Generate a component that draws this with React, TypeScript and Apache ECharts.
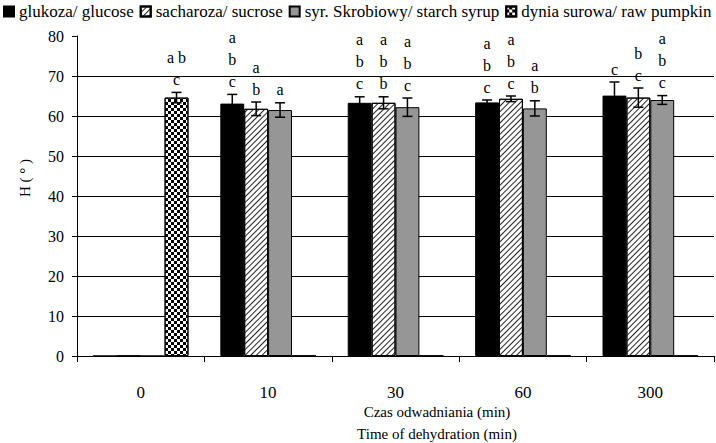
import React, { useEffect, useRef } from "react";
import * as echarts from "echarts";

const categories = ["0", "10", "30", "60", "300"];
const seriesNames = [
  "glukoza/ glucose",
  "sacharoza/ sucrose",
  "syr. Skrobiowy/ starch syrup",
  "dynia surowa/ raw pumpkin",
];
const glucose = [0, 63.1, 63.3, 63.4, 65.1];
const sucrose = [0, 61.8, 63.3, 64.3, 64.6];
const starch = [0, 61.5, 62.2, 61.9, 64.0];
const pumpkin = [64.6, 0, 0, 0, 0];

const glucoseErr = [0, 2.3, 1.5, 0.6, 3.4];
const sucroseErr = [0, 1.7, 1.5, 0.7, 2.4];
const starchErr = [0, 1.8, 2.3, 1.9, 1.1];
const pumpkinErr = [1.3, 0, 0, 0, 0];

const glucoseLetters = ["", "a\nb\nc", "a\nb\nc", "a\nb\nc", "c"];
const sucroseLetters = ["", "a\nb", "a\nb\nb", "a\nb\nc", "b\nc"];
const starchLetters = ["", "a", "a\nb\nc", "a\nb", "a\nb\nc"];
const pumpkinLetters = ["a b\nc", "", "", "", ""];

const yTicks = { min: 0, max: 80, interval: 10 };

export default function App() {
  const ref = useRef<HTMLDivElement>(null);
  useEffect(() => {
    document.body.style.margin = "0";
    if (!ref.current) return;
    const chart = echarts.init(ref.current, null, { renderer: "svg" });
    const font = "Liberation Serif, Times New Roman, serif";
    const values = [glucose, sucrose, starch, pumpkin];
    const errs = [glucoseErr, sucroseErr, starchErr, pumpkinErr];
    const letters = [glucoseLetters, sucroseLetters, starchLetters, pumpkinLetters];
    const colors = ["#000000", "#ffffff", "#969696", "#ffffff"];
    const decals: any[] = [
      null,
      {
        color: "#222",
        backgroundColor: "#fff",
        symbol: "rect",
        symbolSize: 1,
        dashArrayX: [1, 0],
        dashArrayY: [1, 3],
        rotation: -Math.PI / 4,
      },
      null,
      {
        color: "#000",
        backgroundColor: "#fff",
        symbol: "rect",
        symbolSize: 1,
        dashArrayX: [[3, 3], [0, 3, 3, 0]],
        dashArrayY: [3, 0],
      },
    ];
    const errData: any[] = [];
    for (let s = 0; s < 4; s++) {
      for (let c = 0; c < categories.length; c++) {
        if (values[s][c] > 0) errData.push([c, s, values[s][c], errs[s][c]]);
      }
    }
    const barSeries = seriesNames.map((name, s) => ({
      name,
      type: "bar",
      data: values[s],
      barGap: "0%",
      barCategoryGap: "25%",
      itemStyle: {
        color: colors[s],
        borderColor: "#000",
        borderWidth: 1,
        ...(decals[s] ? { decal: decals[s] } : {}),
      },
    }));
    const option: any = {
      animation: false,
      textStyle: { fontFamily: font },
      legend: {
        data: seriesNames,
        left: 3,
        top: 3,
        width: 713,
        padding: 0,
        itemWidth: 10,
        itemHeight: 10,
        itemGap: 6,
        icon: "rect",
        textStyle: { fontFamily: font, fontSize: 17, color: "#000" },
      },
      grid: { left: 77, right: 2, top: 36, bottom: 87 },
      xAxis: {
        type: "category",
        data: categories,
        axisLine: { lineStyle: { color: "#000", width: 1 } },
        axisTick: { show: true, length: 6, lineStyle: { color: "#000" } },
        axisLabel: { fontFamily: font, fontSize: 17, color: "#000", margin: 28 },
      },
      yAxis: {
        type: "value",
        min: yTicks.min,
        max: yTicks.max,
        interval: yTicks.interval,
        axisLine: { show: true, lineStyle: { color: "#000", width: 1 } },
        axisTick: { show: true, length: 5, lineStyle: { color: "#000" } },
        axisLabel: { fontFamily: font, fontSize: 16, color: "#000", margin: 13 },
        splitLine: {
          show: true,
          lineStyle: {
            color: ["#000", "#000", "#000", "#000", "#000", "#000", "#000", "#000", "rgba(0,0,0,0)"],
            width: 1,
          },
        },
      },
      graphic: [
        {
          type: "text",
          x: 25,
          y: 178,
          rotation: Math.PI / 2,
          style: {
            text: "H ( ° )",
            fontFamily: font,
            fontSize: 15,
            fill: "#000",
            align: "center",
            verticalAlign: "middle",
          },
        },
        {
          type: "text",
          x: 437,
          y: 412,
          style: {
            text: "Czas odwadniania (min)",
            fontFamily: font,
            fontSize: 15,
            fill: "#000",
            align: "center",
            verticalAlign: "middle",
          },
        },
        {
          type: "text",
          x: 437,
          y: 434,
          style: {
            text: "Time of dehydration (min)",
            fontFamily: font,
            fontSize: 15,
            fill: "#000",
            align: "center",
            verticalAlign: "middle",
          },
        },
      ],
      series: [
        ...barSeries,
        {
          name: "err",
          type: "custom",
          data: errData,
          z: 10,
          renderItem: (params: any, api: any) => {
            const c = api.value(0);
            const s = api.value(1);
            const v = api.value(2);
            const e = api.value(3);
            const center = api.coord([c, 0]);
            const band = api.size([1, 0])[0];
            const barW = (band * 0.75) / 4;
            const x = center[0] + (s - 1.5) * barW;
            const yTop = api.coord([c, v + e])[1];
            const yBot = api.coord([c, v - e])[1];
            const cap = 5;
            const ls = { stroke: "#000", lineWidth: 1.5 };
            const txt = letters[s][c];
            const children: any[] = [
              { type: "line", shape: { x1: x, y1: yTop, x2: x, y2: yBot }, style: ls },
              { type: "line", shape: { x1: x - cap, y1: yTop, x2: x + cap, y2: yTop }, style: ls },
              { type: "line", shape: { x1: x - cap, y1: yBot, x2: x + cap, y2: yBot }, style: ls },
            ];
            if (txt) {
              children.push({
                type: "text",
                x,
                y: yTop - 2,
                style: {
                  text: txt,
                  fontFamily: font,
                  fontSize: 16,
                  lineHeight: 22,
                  fill: "#000",
                  align: "center",
                  verticalAlign: "bottom",
                },
              });
            }
            return { type: "group", children };
          },
        },
      ],
    };
    chart.setOption(option);
    return () => chart.dispose();
  }, []);
  return <div ref={ref} style={{ width: 716, height: 443 }} />;
}
